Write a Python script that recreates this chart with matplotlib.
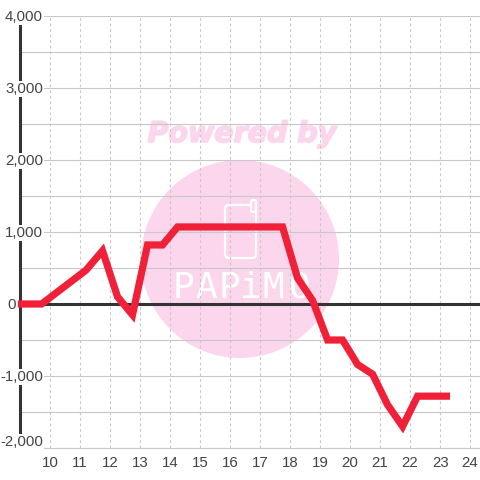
import matplotlib
matplotlib.use('Agg')
import matplotlib.pyplot as plt
import matplotlib.patheffects as pe
from matplotlib.patches import Circle, FancyBboxPatch

plt.rcParams['font.family'] = ['Liberation Sans', 'DejaVu Sans']

hours = [8.93, 9.72, 11.2, 11.75, 12.25, 12.75, 13.25, 13.75, 14.25, 17.75,
         18.25, 18.75, 19.25, 19.75, 20.25, 20.75, 21.25, 21.75, 22.25, 23.33]
values = [0, 0, 470, 740, 100, -150, 820, 820, 1070, 1070,
          360, 50, -500, -500, -840, -975, -1400, -1700, -1280, -1280]

x_ticks = list(range(10, 25))
y_major = [-2000, -1000, 0, 1000, 2000, 3000, 4000]
y_minor = [-1500, -500, 500, 1500, 2500, 3500]
y_labels = ['-2,000', '-1,000', '0', '1,000', '2,000', '3,000', '4,000']

pink = '#fcd6ec'
grid_col = '#c8c8c8'
text_col = '#444444'

fig = plt.figure(figsize=(4.8, 4.8), dpi=100, facecolor='white')

# watermark sits behind the chart, in pixel coordinates
bg = fig.add_axes([0, 0, 1, 1], zorder=0)
bg.set_xlim(0, 480)
bg.set_ylim(480, 0)
bg.axis('off')
bg.add_patch(Circle((240, 259), 99, color=pink, lw=0))
bg.text(242, 134, 'Powered by', color=pink, fontsize=20.5, fontweight='bold', style='italic',
        ha='center', va='center', family='DejaVu Sans',
        path_effects=[pe.withStroke(linewidth=1.2, foreground=pink)])
bg.add_patch(FancyBboxPatch((225, 205), 31, 53, boxstyle='round,pad=0,rounding_size=4',
                            fc='none', ec='white', lw=1.6))
bg.add_patch(FancyBboxPatch((251, 200), 5, 12, boxstyle='round,pad=0,rounding_size=2',
                            fc=pink, ec='white', lw=1.6))
for px, letter in zip([183, 206, 229, 251, 273, 300], 'PAPiMO'):
    bg.text(px, 288, letter, color='white', fontsize=26, ha='center', va='center',
            family='DejaVu Sans Mono')

ax = fig.add_axes([20 / 480, 32 / 480, 460 / 480, 432 / 480], zorder=1)
ax.patch.set_alpha(0)
ax.set_xlim(9.0, 24.33)
ax.set_ylim(-2000, 4000)

for s in ['top', 'right']:
    ax.spines[s].set_visible(False)
ax.spines['left'].set_color('#333333')
ax.spines['left'].set_linewidth(2.2)
ax.spines['left'].set_bounds(-1900, 4000)
ax.spines['bottom'].set_color(grid_col)
ax.spines['bottom'].set_linewidth(0.8)

ax.set_xticks(x_ticks)
ax.set_yticks(y_major)
ax.set_yticklabels([])
ax.set_yticks(y_minor, minor=True)
ax.tick_params(axis='both', which='both', length=0)
ax.tick_params(axis='x', colors=text_col, labelsize=10.8, pad=6)

ax.grid(axis='y', which='both', color=grid_col, lw=0.8)
ax.grid(axis='x', color=grid_col, lw=0.8, ls=(0, (2.5, 2.5)))
ax.set_axisbelow(True)

# labels sit inside the plot, white box hides the axis and grid behind them
for val, lab in zip(y_major, y_labels):
    lab_x = 8.87 if lab == '0' else 9.77
    lab_y = -1903 if val == -2000 else val
    ax.text(lab_x, lab_y - 14, lab, color=text_col, fontsize=10.8, ha='right', va='center',
            zorder=3, clip_on=False, bbox=dict(fc='white', ec='none', pad=1.0))

ax.axhline(0, color='#333333', lw=2.2, zorder=2)
ax.plot(hours, values, color='#f02038', lw=5.2, zorder=4, solid_joinstyle='miter',
        solid_capstyle='butt', clip_on=False)

fig.savefig('out.png', dpi=100)
